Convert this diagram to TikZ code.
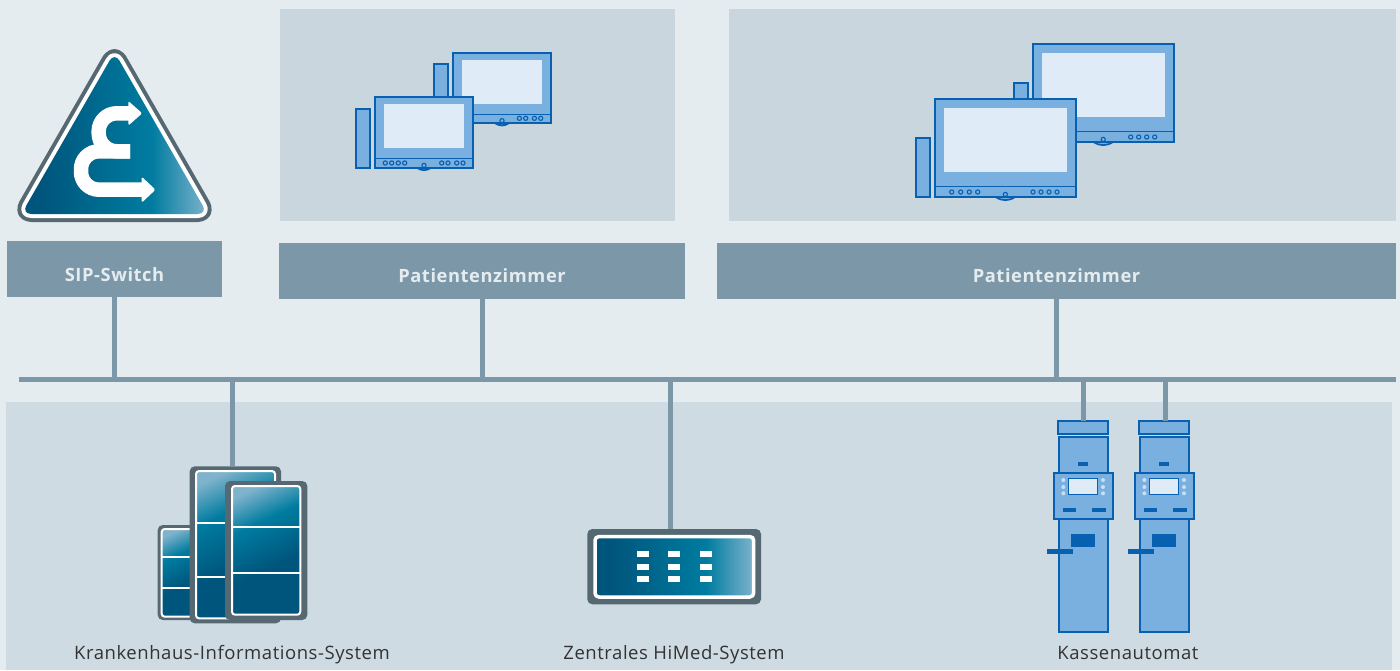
\documentclass[tikz,border=0pt]{standalone}
\usepackage{fontspec}
\setmainfont{Open Sans}
\newfontfamily\headfont[LetterSpace=3.2]{Open Sans}
\newfontfamily\captfont[LetterSpace=3.0]{Open Sans}
\usetikzlibrary{positioning}

\definecolor{pagegrey}{HTML}{E5ECF0}
\definecolor{roomgrey}{HTML}{CAD6DD}
\definecolor{floorgrey}{HTML}{CFDBE3}
\definecolor{headgrey}{HTML}{7C98A8}
\definecolor{framegrey}{HTML}{566973}
\definecolor{devblue}{HTML}{7AB0E0}
\definecolor{devline}{HTML}{0860B0}
\definecolor{screenblue}{HTML}{DFEBF7}
\definecolor{dotblue}{HTML}{C8DFF4}
\definecolor{petrola}{HTML}{00557C}
\definecolor{petrolb}{HTML}{007CA0}
\definecolor{petrolc}{HTML}{7FB3CC}

\pgfdeclarehorizontalshading{petrolshade}{100bp}{color(0bp)=(petrola); color(30bp)=(petrola); color(60bp)=(petrolb); color(75bp)=(petrolc); color(100bp)=(petrolc)}
\pgfdeclarehorizontalshading{rackshade}{100bp}{color(0bp)=(petrola); color(42bp)=(petrola); color(63bp)=(petrolb); color(78bp)=(petrolc); color(100bp)=(petrolc)}

\tikzset{
	headbox/.style={fill=headgrey, text=pagegrey, inner sep=0pt, outer sep=0pt, text depth=0pt, font=\headfont\bfseries\fontsize{18.3}{20}\selectfont},
	devframe/.style={fill=framegrey, rounded corners=5pt, inner sep=0pt, outer sep=0pt},
	inlay/.style={draw=white, line width=2pt, rounded corners=3pt, shading=rackshade, shading angle=115},
	stub/.style={draw=headgrey, line width=5pt},
	unit/.style={draw=devline, fill=devblue, line width=1.7pt},
	kioskunit/.style={draw=devline, fill=devblue, line width=2pt},
	capt/.style={font=\captfont\fontsize{18.5}{20}\selectfont, text=black!80, inner sep=0pt, text height=14pt, text depth=4pt}
}

\newcommand{\monitorunit}[8]{
	\begin{scope}[shift={(#1,#2)}]
		\draw[unit] (-18.7,#4-59) rectangle (-4.7,#4);
		\draw[unit] (#3*0.43,#4) .. controls (#3*0.48,#4+#3*0.03) and (#3*0.52,#4+#3*0.03) .. (#3*0.57,#4) -- cycle;
		\draw[unit] (0,0) rectangle (#3,#4);
		\fill[screenblue] (9,#5) rectangle (#3-9,#5+#6);
		\draw[draw=devline, line width=1pt] (0,#4-#7) -- (#3,#4-#7);
		\foreach \bx in {#8} \draw[devline, line width=1.1pt] (\bx,#4-5) circle (2.1);
		\draw[devline, line width=1.1pt] (#3/2,#4-2.6) circle (2.1);
	\end{scope}
}

\begin{document}
\begin{tikzpicture}[x=1pt,y=-1pt]
	\useasboundingbox (0,0) rectangle (1400,670);
	\fill[pagegrey] (0,0) rectangle (1400,670);
	\fill[roomgrey] (280,9) rectangle (675,220.5);
	\fill[roomgrey] (729,9) rectangle (1396,220.5);
	\fill[floorgrey] (6,402) rectangle (1392,670);

	% heads and bus
	\node[headbox, text height=25.4pt, minimum width=215pt, minimum height=56pt] (sip) at (114.5,269) {SIP-Switch};
	\node[headbox, text height=22pt, minimum width=406pt, minimum height=56pt] (room_a) at (482,271) {Patientenzimmer};
	\node[headbox, text height=22pt, minimum width=679pt, minimum height=56pt] (room_b) at (1056.5,271) {Patientenzimmer};
	\coordinate (bus_l) at (19,379);
	\coordinate (bus_r) at (1396,379);
	\draw[stub] (bus_l) -- (bus_r);
	\draw[stub] (sip.south) -- (sip.south |- bus_l);
	\draw[stub] (room_a.south) -- (room_a.south |- bus_l);
	\draw[stub] (room_b.south) -- (room_b.south |- bus_l);

	% sip switch
	\draw[framegrey, line width=16pt, line join=round, rounded corners=10pt] (21.4,214) -- (114.5,52) -- (207.6,214) -- cycle;
	\draw[white, line width=8pt, line join=round, rounded corners=10pt] (21.4,214) -- (114.5,52) -- (207.6,214) -- cycle;
	\shade[shading=petrolshade, rounded corners=10pt] (21.4,214) -- (114.5,52) -- (207.6,214) -- cycle;
	\draw[white, line width=14.5pt, rounded corners=18pt] (130,151.3) -- (98.7,151.3) -- (98.7,113.3) -- (129,113.3);
	\draw[white, line width=14.5pt, rounded corners=18pt] (130,151.3) -- (81,151.3) -- (81,189.7) -- (142,189.7);
	\fill[white, rounded corners=1.5pt] (128.3,101) -- (142.2,113.3) -- (128.3,125.6) -- cycle;
	\fill[white, rounded corners=1.5pt] (141.7,176.7) -- (155.5,189.7) -- (141.7,202.7) -- cycle;

	% patient rooms
	\monitorunit{452.7}{52.7}{98.6}{70.6}{7.3}{44}{9.3}{66.7,73,81.7,88}
	\monitorunit{375}{96.7}{98}{71.3}{7.3}{44}{9.3}{10.3,16.7,23.3,29.7,66.7,73,81.7,88}
	\monitorunit{1032.7}{44}{141}{98}{9}{64}{10.3}{98,106,114,122}
	\monitorunit{935}{99}{140.7}{98}{9}{64}{10.3}{16.7,25.7,34.3,42.7,98,106,114,122}

	% hospital information system
	\coordinate (kis_stub) at (232,466);
	\draw[stub] (kis_stub) -- (kis_stub |- bus_l);
	\node[devframe, minimum width=60pt, minimum height=95pt] (kis_a) at (187.7,572.5) {};
	\draw[inlay] (161.7,529) rectangle (205,616.7);
	\draw[white, line width=2pt] (161.7,557.3) -- (205,557.3);
	\draw[white, line width=2pt] (161.7,587.7) -- (205,587.7);
	\node[devframe, minimum width=91.3pt, minimum height=157pt] (kis_b) at (235.35,544.8) {};
	\draw[inlay] (196,471) rectangle (275,618.3);
	\draw[white, line width=2pt] (196,522.7) -- (275,522.7);
	\draw[white, line width=2pt] (196,577.3) -- (275,577.3);
	\node[devframe, minimum width=82.3pt, minimum height=139pt] (kis_c) at (266.15,550.5) {};
	\draw[inlay] (232,486) rectangle (300.3,614.7);
	\draw[white, line width=2pt] (232,527.3) -- (300.3,527.3);
	\draw[white, line width=2pt] (232,573) -- (300.3,573);
	\node[capt] (kis_text) at (232,654) {Krankenhaus-Informations-System};

	% central system
	\node[devframe, minimum width=173.7pt, minimum height=75.3pt] (himed) at (674.15,566.65) {};
	\draw[stub] (himed.north -| 670,0) -- (bus_l -| 670,0);
	\shadedraw[draw=white, line width=3.5pt, rounded corners=4pt, shading=petrolshade] (595,536.5) rectangle (753.7,597);
	\foreach \bx in {637,668,700}
		\foreach \by in {551,564,576}
			\fill[white] (\bx,\by) rectangle (\bx+12,\by+5.7);
	\node[capt] (himed_text) at (674,654) {Zentrales HiMed-System};

	% cash machines
	\foreach \name/\dx/\sx in {a/0/0.2,b/81/1.2} {
		\begin{scope}[xshift=\dx pt]
			\node[kioskunit, minimum width=49.7pt, minimum height=12.7pt, inner sep=0pt, outer sep=0pt] (cap_\name) at (1082.85,427.65) {};
			\draw[stub] ([xshift=\sx pt]cap_\name.north) -- ([xshift=\sx pt]cap_\name.north |- bus_l);
			\draw[kioskunit] (1058.7,437.3) rectangle (1108.3,632);
			\fill[devline] (1078,462) rectangle (1088,466);
			\draw[kioskunit] (1054.3,473.3) rectangle (1113,519.3);
			\draw[draw=devline, fill=screenblue, line width=1.3pt] (1068.7,478.3) rectangle (1097.7,494.3);
			\foreach \dotx in {1063.3,1103}
				\foreach \doty in {480,487,493.3}
					\fill[dotblue] (\dotx,\doty) circle (2);
			\fill[devline] (1062.7,508) rectangle (1076.3,512);
			\fill[devline] (1092,508) rectangle (1105.7,512);
			\fill[devline] (1071.3,534.3) rectangle (1094.7,546.7);
			\fill[devline] (1046.7,549.3) rectangle (1072.7,554);
		\end{scope}
	}
	\node[capt] (cash_text) at (1128,654) {Kassenautomat};
\end{tikzpicture}
\end{document}
